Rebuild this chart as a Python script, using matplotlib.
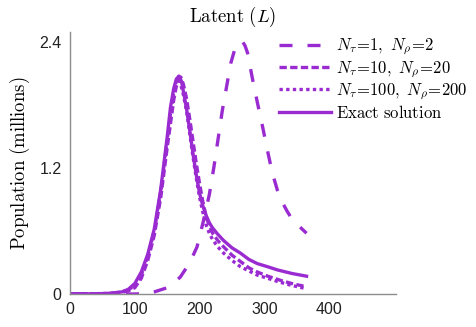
import matplotlib
matplotlib.use("Agg")
import matplotlib.pyplot as plt

# ---- data (days, millions) ----
t_exact = [0, 40, 60, 80, 90, 100, 110, 120, 130, 140, 145, 150, 155, 160, 164, 168,
           172, 176, 180, 185, 190, 195, 200, 205, 210, 215, 220, 228, 237, 250, 263, 276,
           289, 305, 320, 343, 365]
L_exact = [0, 0.002, 0.006, 0.02, 0.045, 0.1, 0.21, 0.38, 0.62, 1.0, 1.25, 1.5, 1.78, 1.96, 2.05, 2.08,
           2.03, 1.9, 1.76, 1.55, 1.33, 1.13, 0.96, 0.84, 0.75, 0.68, 0.63, 0.57, 0.51, 0.44, 0.39, 0.33,
           0.29, 0.26, 0.23, 0.195, 0.17]

t_n1 = [0, 60, 100, 120, 130, 150, 170, 185, 196, 206, 215, 222, 235, 248, 254, 258, 262, 266,
        270, 274, 281, 289, 297, 305, 312, 320, 328, 335, 342, 350, 358, 365]
L_n1 = [0, 0, 0.0, 0.005, 0.02, 0.06, 0.16, 0.3, 0.45, 0.7, 0.95, 1.21, 1.75, 2.2, 2.33, 2.38, 2.41, 2.41,
        2.37, 2.3, 2.07, 1.83, 1.6, 1.36, 1.16, 0.99, 0.87, 0.79, 0.72, 0.67, 0.62, 0.58]

t_n10 = [0, 60, 80, 90, 100, 110, 120, 130, 140, 150, 160, 164, 167, 171, 175, 180, 185, 190,
         195, 200, 205, 210, 215, 220, 228, 237, 250, 263, 276, 289, 305, 325, 345, 365]
L_n10 = [0, 0.004, 0.015, 0.03, 0.06, 0.15, 0.32, 0.56, 0.92, 1.4, 1.85, 1.98, 2.04, 2.07, 2.0, 1.86, 1.66, 1.45,
         1.24, 1.05, 0.88, 0.74, 0.65, 0.58, 0.51, 0.45, 0.37, 0.31, 0.25, 0.21, 0.17, 0.13, 0.095, 0.07]

t_n100 = [0, 60, 80, 90, 100, 110, 120, 130, 140, 150, 155, 160, 163, 166, 170, 175, 180, 185,
          190, 195, 200, 205, 210, 215, 220, 228, 237, 250, 263, 276, 289, 305, 320, 340, 365]
L_n100 = [0, 0.005, 0.018, 0.04, 0.08, 0.18, 0.36, 0.6, 0.98, 1.47, 1.72, 1.92, 2.01, 2.05, 2.02, 1.9, 1.74, 1.52,
          1.3, 1.1, 0.92, 0.78, 0.66, 0.58, 0.52, 0.45, 0.39, 0.32, 0.26, 0.22, 0.18, 0.15, 0.12, 0.085, 0.05]

labels = [r'$N_\tau\!=\!1,\ N_\rho\!=\!2$',
          r'$N_\tau\!=\!10,\ N_\rho\!=\!20$',
          r'$N_\tau\!=\!100,\ N_\rho\!=\!200$',
          r'$\mathrm{Exact\ solution}$']
xticks = [0, 100, 200, 300, 400]
yticks = [0, 1.2, 2.4]

plt.rcParams['mathtext.fontset'] = 'cm'
plt.rcParams['font.family'] = ['Liberation Sans', 'DejaVu Sans']

color = '#9a2bd1'
lw = 2.4

fig = plt.figure(figsize=(4.77, 3.27), dpi=100)
ax = fig.add_axes([70 / 477, 33 / 327, 326 / 477, 262 / 327])

ax.plot(t_n1, L_n1, color=color, lw=lw, linestyle=(0, (3.9, 4.5)), label=labels[0])
ax.plot(t_n10, L_n10, color=color, lw=lw, linestyle=(0, (2.2, 1.0)), label=labels[1])
ax.plot(t_n100, L_n100, color=color, lw=lw, linestyle=(0, (1.0, 1.0)), label=labels[2])
ax.plot(t_exact, L_exact, color=color, lw=lw, linestyle='-', label=labels[3])

ax.set_xlim(0, 503)
ax.set_ylim(0, 2.5)
ax.set_xticks(xticks)
ax.set_xticklabels([str(v) for v in xticks])
ax.set_yticks(yticks)
ax.set_yticklabels(['0', '1.2', '2.4'])
ax.tick_params(length=0, labelsize=11.5, pad=6, colors='#222222')

for side in ['top', 'right']:
    ax.spines[side].set_visible(False)
for side in ['left', 'bottom']:
    ax.spines[side].set_color('#8c8c8c')
    ax.spines[side].set_linewidth(1.0)

ax.set_title(r'$\mathrm{Latent}\ (L)$', fontsize=13.5, pad=7)
ax.set_ylabel(r'$\mathrm{Population\ (millions)}$', fontsize=13.5, labelpad=5)

fig.legend(loc='upper left', bbox_to_anchor=(279 / 477, 1 - 37 / 327), frameon=False,
           fontsize=12, handlelength=3.1, handletextpad=0.35, borderpad=0, borderaxespad=0,
           labelspacing=0.12)

fig.savefig('out.png', dpi=100)
